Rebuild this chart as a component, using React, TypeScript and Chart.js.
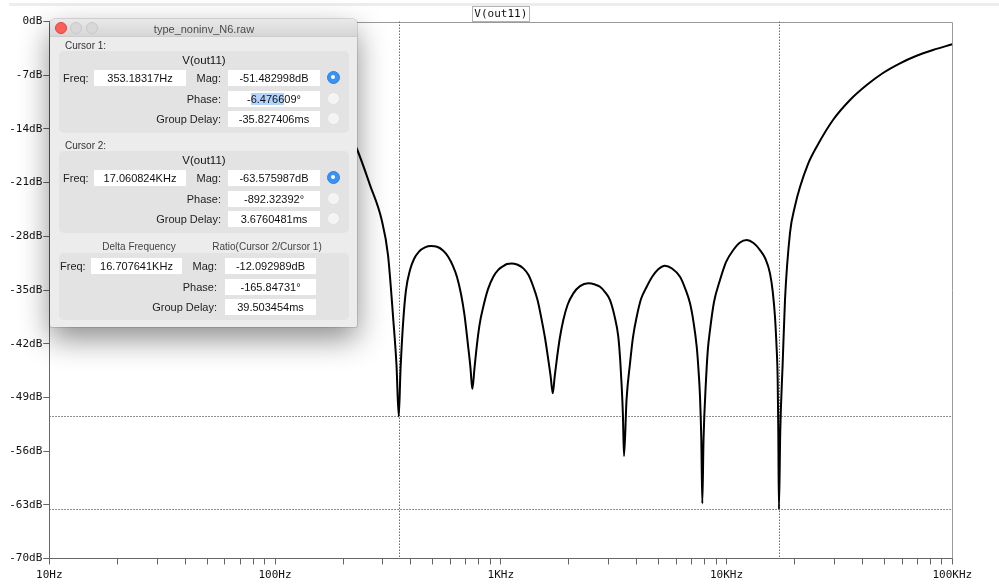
import React, { useEffect, useRef } from "react";
import { Chart, registerables } from "chart.js";

Chart.register(...registerables);

// ---- data ----
const freqHz = [
  204.1, 231.4, 263.4, 296.8, 316.5, 334.1, 345.1, 353.18,
  359.5, 369.9, 380.2, 396.1, 412.6, 434.2, 461.5, 490.8, 521.8, 554.6, 583.6,
  614.2, 639.7, 666.4, 690.6, 715.6, 734.1, 747.8,
  764.7, 782.1, 804.7, 836.4, 877.7, 926.5, 971.9, 1025.8, 1065.3, 1117.7, 1179.8,
  1258.4, 1326.8, 1393.4, 1454.5, 1518.1, 1570.1, 1623.9, 1664.1, 1698.4,
  1731.7, 1769.1, 1825.9, 1892.2, 1975.1, 2095.3, 2243.2, 2441.3, 2615.1, 2750.9,
  2894.8, 3046.4, 3189.4, 3315.4, 3380.3, 3432.5, 3474.7, 3513.9,
  3604.7, 3735.6, 3851.8, 3999.8, 4179.1, 4429.2, 4675.4, 4969.9, 5337.6, 5733.5,
  6220.7, 6546.6, 6889.0, 7139.2, 7376.0, 7512.9, 7628.8, 7730.6, 7809.9,
  7905.9, 8109.8, 8260.0, 8447.4, 8799.2, 9353.3, 9944.0, 10713, 11470, 12284,
  13163, 14065, 14876, 15574, 16026, 16389, 16642, 16847, 16950, 17060.824,
  17300, 17730, 18150, 19100, 20099, 21151, 22951, 25077, 29613, 35228, 41768,
  49320, 58664, 69063, 82142, 100000,
];
const magDb = [
  -13.49, -16.75, -21.32, -25.88, -30.44, -38.92, -44.78, -51.48,
  -45.44, -38.92, -35.01, -32.4, -30.96, -29.99, -29.44, -29.27, -29.37, -29.86, -30.64,
  -31.88, -33.31, -35.53, -38.27, -42.18, -45.18, -47.91,
  -45.18, -42.4, -39.57, -37.18, -34.88, -33.27, -32.4, -31.88, -31.62, -31.53, -31.68,
  -32.18, -33.05, -34.58, -36.31, -38.92, -41.26, -44.13, -46.35, -48.47,
  -46.35, -44.13, -41.26, -38.92, -36.96, -35.44, -34.49, -34.13, -34.29, -34.58,
  -35.27, -36.31, -38.4, -41.1, -44.13, -47.61, -51.3, -56.65,
  -49.35, -44.56, -41.13, -38.49, -36.18, -34.58, -33.31, -32.33, -31.84, -32.2,
  -33.27, -34.75, -36.74, -39.18, -42.4, -45.44, -48.92, -54.56, -62.82,
  -54.56, -46.74, -42.83, -40.22, -36.57, -33.7, -31.36, -29.79, -28.81, -28.49,
  -28.88, -29.79, -30.96, -32.83, -35.27, -38.49, -42.18, -46.74, -53.26, -63.576,
  -53.26, -44.52, -36.31, -27.57, -24.05, -21.58, -18.58, -16.32, -12.84, -10.23, -8.28,
  -6.71, -5.45, -4.5, -3.72, -2.97,
];

const xTickValues = [
  10, 20, 30, 40, 50, 60, 70, 80, 90,
  100, 200, 300, 400, 500, 600, 700, 800, 900,
  1000, 2000, 3000, 4000, 5000, 6000, 7000, 8000, 9000,
  10000, 20000, 30000, 40000, 50000, 60000, 70000, 80000, 90000,
  100000,
];
const xTickLabels = [
  "10Hz", "", "", "", "", "", "", "", "",
  "100Hz", "", "", "", "", "", "", "", "",
  "1KHz", "", "", "", "", "", "", "", "",
  "10KHz", "", "", "", "", "", "", "", "",
  "100KHz",
];
const yMinDb = -70;
const yMaxDb = 0;
const yStepDb = 7;

const cursorFreqHz = [353.18317, 17060.824];
const cursorMagDb = [-51.482998, -63.575987];
const traceName = "V(out11)";

const MONO = '"DejaVu Sans Mono", "Liberation Mono", monospace';
const SANS = '"Liberation Sans", Arial, "Noto Sans", sans-serif';

const cursorPlugin = {
  id: "cursorsAndFrame",
  beforeDatasetsDraw(chart: any) {
    const { ctx, chartArea: a, scales } = chart;
    ctx.save();
    ctx.strokeStyle = "#9a9a9a";
    ctx.lineWidth = 1;
    ctx.beginPath();
    ctx.moveTo(a.left, Math.round(a.top) + 0.5);
    ctx.lineTo(Math.round(a.right) + 0.5, Math.round(a.top) + 0.5);
    ctx.lineTo(Math.round(a.right) + 0.5, a.bottom);
    ctx.stroke();
    ctx.strokeStyle = "#6a6a6a";
    ctx.setLineDash([1.5, 1.5]);
    cursorFreqHz.forEach((f) => {
      const x = Math.round(scales.x.getPixelForValue(f)) + 0.5;
      ctx.beginPath();
      ctx.moveTo(x, a.top);
      ctx.lineTo(x, a.bottom);
      ctx.stroke();
    });
    cursorMagDb.forEach((m) => {
      const y = Math.round(scales.y.getPixelForValue(m)) + 0.5;
      ctx.beginPath();
      ctx.moveTo(a.left, y);
      ctx.lineTo(a.right, y);
      ctx.stroke();
    });
    ctx.restore();
  },
  afterDraw(chart: any) {
    const { ctx, chartArea: a } = chart;
    const tb = chart.titleBlock;
    ctx.save();
    ctx.font = "11px " + MONO;
    const w = ctx.measureText(traceName).width;
    const cx = tb ? (tb.left + tb.right) / 2 : (a.left + a.right) / 2;
    ctx.strokeStyle = "#666";
    ctx.lineWidth = 1;
    ctx.setLineDash([1, 1]);
    ctx.strokeRect(Math.round(cx - w / 2 - 2) + 0.5, Math.round(a.top) - 15.5, Math.round(w + 4), 15);
    ctx.restore();
  },
};

function ChartCanvas() {
  const ref = useRef<HTMLCanvasElement | null>(null);
  useEffect(() => {
    if (!ref.current) return;
    const chart = new Chart(ref.current, {
      type: "line",
      data: {
        datasets: [
          {
            label: traceName,
            data: freqHz.map((f, i) => ({ x: f, y: magDb[i] })),
            borderColor: "#000",
            borderWidth: 2,
            pointRadius: 0,
            cubicInterpolationMode: "monotone",
            fill: false,
          },
        ],
      },
      options: {
        animation: false,
        responsive: false,
        devicePixelRatio: 1,
        events: [],
        layout: { padding: { left: 0, right: 46.7, top: 0, bottom: 0 } },
        plugins: {
          legend: { display: false },
          tooltip: { enabled: false },
          title: {
            display: true,
            fullSize: false,
            text: traceName,
            color: "#111",
            font: { family: MONO, size: 11, weight: "normal", lineHeight: 1.2 },
            padding: { top: 8, bottom: 0.3 },
          },
        },
        scales: {
          x: {
            type: "logarithmic",
            min: 10,
            max: 100000,
            afterBuildTicks: (scale: any) => {
              scale.ticks = xTickValues.map((v) => ({ value: v }));
            },
            afterFit: (scale: any) => {
              scale.height = 27.5;
            },
            ticks: {
              autoSkip: false,
              maxRotation: 0,
              minRotation: 0,
              padding: 4,
              color: "#111",
              font: { family: MONO, size: 11 },
              callback: (_v: any, i: number) => xTickLabels[i],
            },
            grid: {
              drawOnChartArea: false,
              drawTicks: true,
              tickLength: 6,
              color: "#666",
            },
            border: { display: true, color: "#666", width: 1 },
          },
          y: {
            type: "linear",
            min: yMinDb,
            max: yMaxDb,
            afterFit: (scale: any) => {
              scale.width = 49.3;
            },
            ticks: {
              stepSize: yStepDb,
              padding: 1,
              color: "#111",
              font: { family: MONO, size: 11 },
              callback: (v: any) => `${v}dB`,
            },
            grid: {
              drawOnChartArea: false,
              drawTicks: true,
              tickLength: 6,
              color: "#666",
            },
            border: { display: true, color: "#666", width: 1 },
          },
        },
      },
      plugins: [cursorPlugin],
    } as any);
    return () => chart.destroy();
  }, []);
  return <canvas ref={ref} width={999} height={586} style={{ display: "block", width: 999, height: 586 }} />;
}

// ---- cursor dialog (overlay) ----
const DX = 50;
const DY = 19;

function Lbl({ x, cy, children, align = "left", size = 11, color = "#222" }: any) {
  const base: any = {
    position: "absolute",
    top: cy - 8 - DY,
    height: 16,
    lineHeight: "16px",
    fontSize: size,
    color,
    whiteSpace: "nowrap",
  };
  if (align === "left") base.left = x - DX;
  else if (align === "right") base.right = 357 - x;
  else {
    base.left = x - 100 - DX;
    base.width = 200;
    base.textAlign = "center";
  }
  return <div style={base}>{children}</div>;
}

function Field({ x0, x1, cy, children }: any) {
  return (
    <div
      style={{
        position: "absolute",
        left: x0 - DX,
        top: cy - 8 - DY,
        width: x1 - x0,
        height: 16,
        lineHeight: "16px",
        background: "#fff",
        textAlign: "center",
        fontSize: 11,
        color: "#111",
        whiteSpace: "nowrap",
      }}
    >
      {children}
    </div>
  );
}

function Radio({ cx, cy, on }: any) {
  return (
    <div
      style={{
        position: "absolute",
        left: cx - 6.5 - DX,
        top: cy - 6.5 - DY,
        width: 13,
        height: 13,
        borderRadius: "50%",
        boxSizing: "border-box",
        background: on ? "#3a92f6" : "#f4f4f4",
        border: on ? "1px solid #2f7fe0" : "1px solid #e2e2e2",
      }}
    >
      {on ? (
        <div style={{ position: "absolute", left: 3.5, top: 3.5, width: 4, height: 4, borderRadius: "50%", background: "#fff" }} />
      ) : null}
    </div>
  );
}

function Group({ y0, y1 }: any) {
  return (
    <div
      style={{
        position: "absolute",
        left: 59 - DX,
        top: y0 - DY,
        width: 290,
        height: y1 - y0,
        background: "#e3e3e3",
        borderRadius: 5,
      }}
    />
  );
}

function CursorBlock({ title, cy0, freq, mag, phase, gd, magOn }: any) {
  return (
    <>
      <Lbl x={65} cy={cy0} size={10} color="#333">{title}</Lbl>
      <Group y0={cy0 + 5} y1={cy0 + 87} />
      <Lbl x={204} cy={cy0 + 14} align="center" size={11.5} color="#111">V(out11)</Lbl>
      <Lbl x={63} cy={cy0 + 32}>Freq:</Lbl>
      <Field x0={94} x1={186} cy={cy0 + 32}>{freq}</Field>
      <Lbl x={221} cy={cy0 + 32} align="right">Mag:</Lbl>
      <Field x0={228} x1={320} cy={cy0 + 32}>{mag}</Field>
      <Radio cx={333} cy={cy0 + 31} on={magOn} />
      <Lbl x={221} cy={cy0 + 52.5} align="right">Phase:</Lbl>
      <Field x0={228} x1={320} cy={cy0 + 52.5}>{phase}</Field>
      <Radio cx={333} cy={cy0 + 52} on={false} />
      <Lbl x={221} cy={cy0 + 72.5} align="right">Group Delay:</Lbl>
      <Field x0={228} x1={320} cy={cy0 + 72.5}>{gd}</Field>
      <Radio cx={333} cy={cy0 + 72} on={false} />
    </>
  );
}

function Dialog() {
  return (
    <div
      style={{
        position: "absolute",
        left: DX,
        top: DY,
        width: 307,
        height: 308,
        background: "#ececec",
        borderRadius: "5px 5px 2px 2px",
        boxShadow: "0 12px 30px rgba(0,0,0,0.45), 0 0 0 1px rgba(0,0,0,0.12)",
        fontFamily: SANS,
        overflow: "hidden",
      }}
    >
      <div
        style={{
          position: "absolute",
          left: 0,
          top: 0,
          width: 307,
          height: 17,
          background: "linear-gradient(#e9e9e9, #d6d6d6)",
          borderBottom: "1px solid #cdcdcd",
        }}
      />
      {[
        { cx: 61, bg: "#fc5f57", bd: "#e0443e" },
        { cx: 76, bg: "#d8d8d8", bd: "#c8c8c8" },
        { cx: 91.5, bg: "#d8d8d8", bd: "#c8c8c8" },
      ].map((b, i) => (
        <div
          key={i}
          style={{
            position: "absolute",
            left: b.cx - 6 - DX,
            top: 28 - 6 - DY,
            width: 12,
            height: 12,
            borderRadius: "50%",
            boxSizing: "border-box",
            background: b.bg,
            border: `1px solid ${b.bd}`,
          }}
        />
      ))}
      <Lbl x={204} cy={28.5} align="center" size={11} color="#4a4a4a">type_noninv_N6.raw</Lbl>

      <CursorBlock
        title="Cursor 1:"
        cy0={46}
        freq="353.18317Hz"
        mag="-51.482998dB"
        phase={
          <>
            -<span style={{ background: "#b3d5fd" }}>6.4766</span>09°
          </>
        }
        gd="-35.827406ms"
        magOn={true}
      />
      <CursorBlock
        title="Cursor 2:"
        cy0={146}
        freq="17.060824KHz"
        mag="-63.575987dB"
        phase="-892.32392°"
        gd="3.6760481ms"
        magOn={true}
      />

      <Lbl x={139} cy={247} align="center" size={10} color="#444">Delta Frequency</Lbl>
      <Lbl x={267} cy={247} align="center" size={10} color="#444">Ratio(Cursor 2/Cursor 1)</Lbl>
      <Group y0={253} y1={320} />
      <Lbl x={60} cy={265.5}>Freq:</Lbl>
      <Field x0={91} x1={182} cy={265.5}>16.707641KHz</Field>
      <Lbl x={217} cy={265.5} align="right">Mag:</Lbl>
      <Field x0={225} x1={316} cy={265.5}>-12.092989dB</Field>
      <Lbl x={217} cy={286.5} align="right">Phase:</Lbl>
      <Field x0={225} x1={316} cy={286.5}>-165.84731°</Field>
      <Lbl x={217} cy={306.5} align="right">Group Delay:</Lbl>
      <Field x0={225} x1={316} cy={306.5}>39.503454ms</Field>
    </div>
  );
}

export default function App() {
  return (
    <div style={{ position: "fixed", left: 0, top: 0, width: 999, height: 586, background: "#fff", overflow: "hidden" }}>
      <div style={{ position: "absolute", left: 9, top: 3, right: 0, height: 3, background: "#ededed" }} />
      <ChartCanvas />
      <Dialog />
    </div>
  );
}
